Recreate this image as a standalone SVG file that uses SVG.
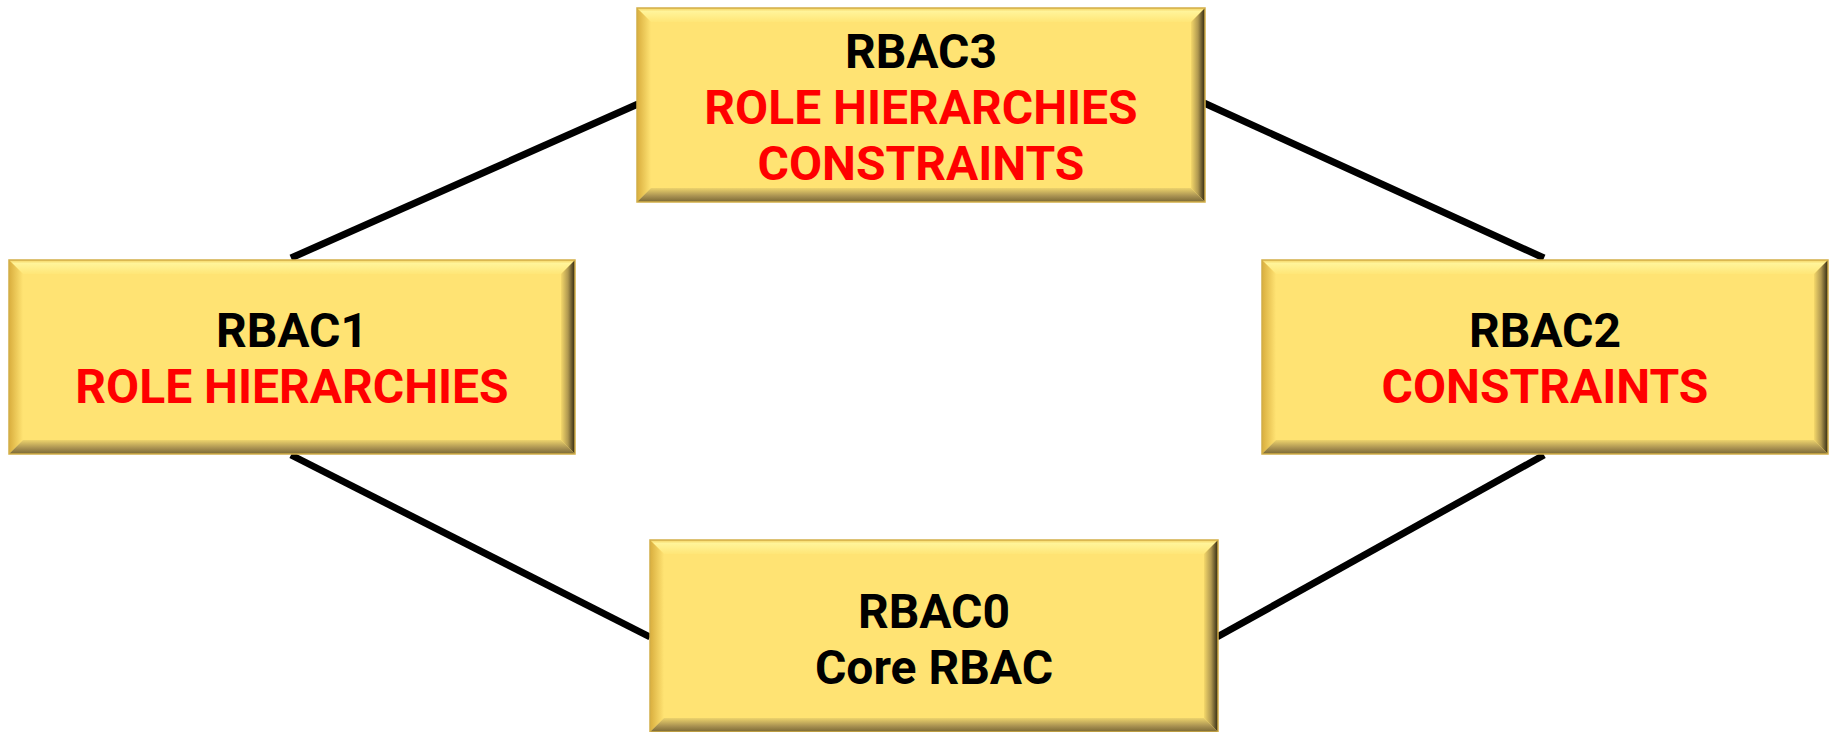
<svg xmlns="http://www.w3.org/2000/svg" width="1834" height="732" viewBox="0 0 1834 732">
<defs>
<linearGradient id="gTop" x1="0" y1="0" x2="0" y2="1">
<stop offset="0" stop-color="#F3D160"/>
<stop offset="0.25" stop-color="#FFF49A"/>
<stop offset="1" stop-color="#FFE677"/>
</linearGradient>
<linearGradient id="gLeft" x1="0" y1="0" x2="1" y2="0">
<stop offset="0" stop-color="#D9AE3E"/>
<stop offset="1" stop-color="#FFE373"/>
</linearGradient>
<linearGradient id="gRight" x1="0" y1="0" x2="1" y2="0">
<stop offset="0" stop-color="#F5D86A"/>
<stop offset="0.5" stop-color="#B09850"/>
<stop offset="1" stop-color="#2E2610"/>
</linearGradient>
<linearGradient id="gBottom" x1="0" y1="0" x2="0" y2="1">
<stop offset="0" stop-color="#EDD36C"/>
<stop offset="0.6" stop-color="#A68F50"/>
<stop offset="1" stop-color="#7A6834"/>
</linearGradient>
</defs>
<style>
.face{fill:#FFE373;}
.edge{fill:none;stroke:#D2AE48;stroke-width:1.5;}
.conn{stroke:#000;stroke-width:7;fill:none;}
text{font-family:Roboto,"Liberation Sans",sans-serif;font-weight:700;font-size:48px;text-anchor:middle;}
.k{fill:#000;}
.r{fill:#FF0000;}
</style>
<g id="connectors">
<line class="conn" x1="291" y1="258" x2="638" y2="104"/>
<line class="conn" x1="1204" y1="103" x2="1544" y2="258"/>
<line class="conn" x1="291" y1="455" x2="650" y2="637"/>
<line class="conn" x1="1217" y1="637" x2="1544" y2="455"/>
</g>
<g id="rbac3">
<rect class="face" x="637" y="8" width="568" height="194"/>
<polygon fill="url(#gTop)" points="637,8 1205,8 1191,22 651,22"/>
<polygon fill="url(#gLeft)" points="637,8 651,22 651,188 637,202"/>
<polygon fill="url(#gRight)" points="1205,8 1205,202 1191,188 1191,22"/>
<polygon fill="url(#gBottom)" points="637,202 651,188 1191,188 1205,202"/>
<rect class="edge" x="637" y="8" width="568" height="194"/>
<text class="k" x="921" y="68">RBAC3</text>
<text class="r" x="921" y="124">ROLE HIERARCHIES</text>
<text class="r" x="921" y="180">CONSTRAINTS</text>
</g>
<g id="rbac1">
<rect class="face" x="9" y="260" width="566" height="194"/>
<polygon fill="url(#gTop)" points="9,260 575,260 561,274 23,274"/>
<polygon fill="url(#gLeft)" points="9,260 23,274 23,440 9,454"/>
<polygon fill="url(#gRight)" points="575,260 575,454 561,440 561,274"/>
<polygon fill="url(#gBottom)" points="9,454 23,440 561,440 575,454"/>
<rect class="edge" x="9" y="260" width="566" height="194"/>
<text class="k" x="292" y="347">RBAC1</text>
<text class="r" x="292" y="403">ROLE HIERARCHIES</text>
</g>
<g id="rbac2">
<rect class="face" x="1262" y="260" width="566" height="194"/>
<polygon fill="url(#gTop)" points="1262,260 1828,260 1814,274 1276,274"/>
<polygon fill="url(#gLeft)" points="1262,260 1276,274 1276,440 1262,454"/>
<polygon fill="url(#gRight)" points="1828,260 1828,454 1814,440 1814,274"/>
<polygon fill="url(#gBottom)" points="1262,454 1276,440 1814,440 1828,454"/>
<rect class="edge" x="1262" y="260" width="566" height="194"/>
<text class="k" x="1545" y="347">RBAC2</text>
<text class="r" x="1545" y="403">CONSTRAINTS</text>
</g>
<g id="rbac0">
<rect class="face" x="650" y="540" width="568" height="192"/>
<polygon fill="url(#gTop)" points="650,540 1218,540 1204,554 664,554"/>
<polygon fill="url(#gLeft)" points="650,540 664,554 664,718 650,732"/>
<polygon fill="url(#gRight)" points="1218,540 1218,732 1204,718 1204,554"/>
<polygon fill="url(#gBottom)" points="650,732 664,718 1204,718 1218,732"/>
<rect class="edge" x="650" y="540" width="568" height="192"/>
<text class="k" x="934" y="628">RBAC0</text>
<text class="k" x="934" y="684">Core RBAC</text>
</g>
</svg>
